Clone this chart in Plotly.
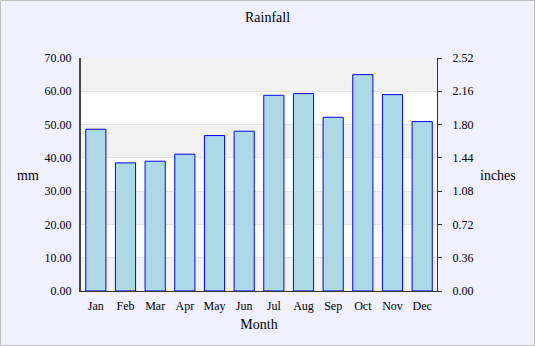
import plotly.graph_objects as go

# Monthly rainfall (mm)
months = ["Jan", "Feb", "Mar", "Apr", "May", "Jun",
          "Jul", "Aug", "Sep", "Oct", "Nov", "Dec"]
rain_mm = [48.6, 38.5, 39.0, 41.1, 46.7, 48.0,
           58.8, 59.3, 52.2, 65.0, 59.0, 50.9]

mm_ticks = [0, 10, 20, 30, 40, 50, 60, 70]
inch_ticks = [0, 0.36, 0.72, 1.08, 1.44, 1.80, 2.16, 2.52]

FONT = "Liberation Serif"
W, H = 535, 346
L, R, T, B = 81, 98, 58, 55
PW, PH = W - L - R, H - T - B

fig = go.Figure()
fig.add_trace(go.Bar(
    x=months, y=rain_mm,
    marker=dict(color="#ADD8E6", line=dict(color="#0000FF", width=1)),
    showlegend=False,
))
# invisible companion trace so the inches axis is drawn
fig.add_trace(go.Scatter(
    x=months, y=[v * inch_ticks[-1] / mm_ticks[-1] for v in rain_mm],
    yaxis="y2", mode="markers", marker=dict(opacity=0),
    showlegend=False, hoverinfo="skip",
))

# alternating horizontal bands
shapes = []
for i in range(len(mm_ticks) - 1):
    if i % 2 == 0:
        shapes.append(dict(type="rect", xref="paper", yref="y",
                           x0=0, x1=1, y0=mm_ticks[i], y1=mm_ticks[i + 1],
                           fillcolor="#F2F2F2", line=dict(width=0), layer="below"))
# outer frame of the figure
shapes.append(dict(type="rect", xref="paper", yref="paper",
                   x0=(0.5 - L) / PW, x1=(W - 0.5 - L) / PW,
                   y0=(T + PH - (H - 0.5)) / PH, y1=(T + PH - 0.5) / PH,
                   line=dict(color="#C0C0C0", width=1), fillcolor="rgba(0,0,0,0)"))

fig.update_layout(
    width=W, height=H,
    margin=dict(l=L, r=R, t=T, b=B),
    paper_bgcolor="#F0F0FF", plot_bgcolor="#FFFFFF",
    font=dict(family=FONT, size=12, color="#000000"),
    title=dict(text="Rainfall", x=0.5, xanchor="center", y=1 - 17 / H, yanchor="middle",
               font=dict(family=FONT, size=14, color="#000000")),
    bargap=0.32,
    shapes=shapes,
    xaxis=dict(
        range=[-0.5, len(months) - 0.5],
        title=dict(text="Month", font=dict(family=FONT, size=14), standoff=6),
        showline=True, linecolor="#333333", linewidth=1,
        showgrid=False, ticks="", ticklabelstandoff=4,
        tickfont=dict(family=FONT, size=12),
    ),
    yaxis=dict(
        range=[0, 70], tickvals=mm_ticks, tickformat=".2f",
        showline=True, linecolor="#444444", linewidth=2,
        showgrid=True, gridcolor="#E4E4E4", gridwidth=1,
        zeroline=False, ticks="", ticklabelstandoff=5,
        tickfont=dict(family=FONT, size=12),
    ),
    yaxis2=dict(
        range=[0, 2.52], tickvals=inch_ticks, tickformat=".2f",
        overlaying="y", side="right",
        showline=True, linecolor="#333333", linewidth=1,
        showgrid=False, zeroline=False,
        ticks="outside", ticklen=4, tickcolor="#333333",
        ticklabelstandoff=8,
        tickfont=dict(family=FONT, size=12),
    ),
    annotations=[
        dict(text="mm", xref="paper", yref="paper",
             x=(28 - L) / PW, y=(T + PH - 175) / PH,
             xanchor="center", yanchor="middle", showarrow=False,
             font=dict(family=FONT, size=14)),
        dict(text="inches", xref="paper", yref="paper",
             x=(498 - L) / PW, y=(T + PH - 175) / PH,
             xanchor="center", yanchor="middle", showarrow=False,
             font=dict(family=FONT, size=14)),
    ],
)

fig.write_html("out.html")
